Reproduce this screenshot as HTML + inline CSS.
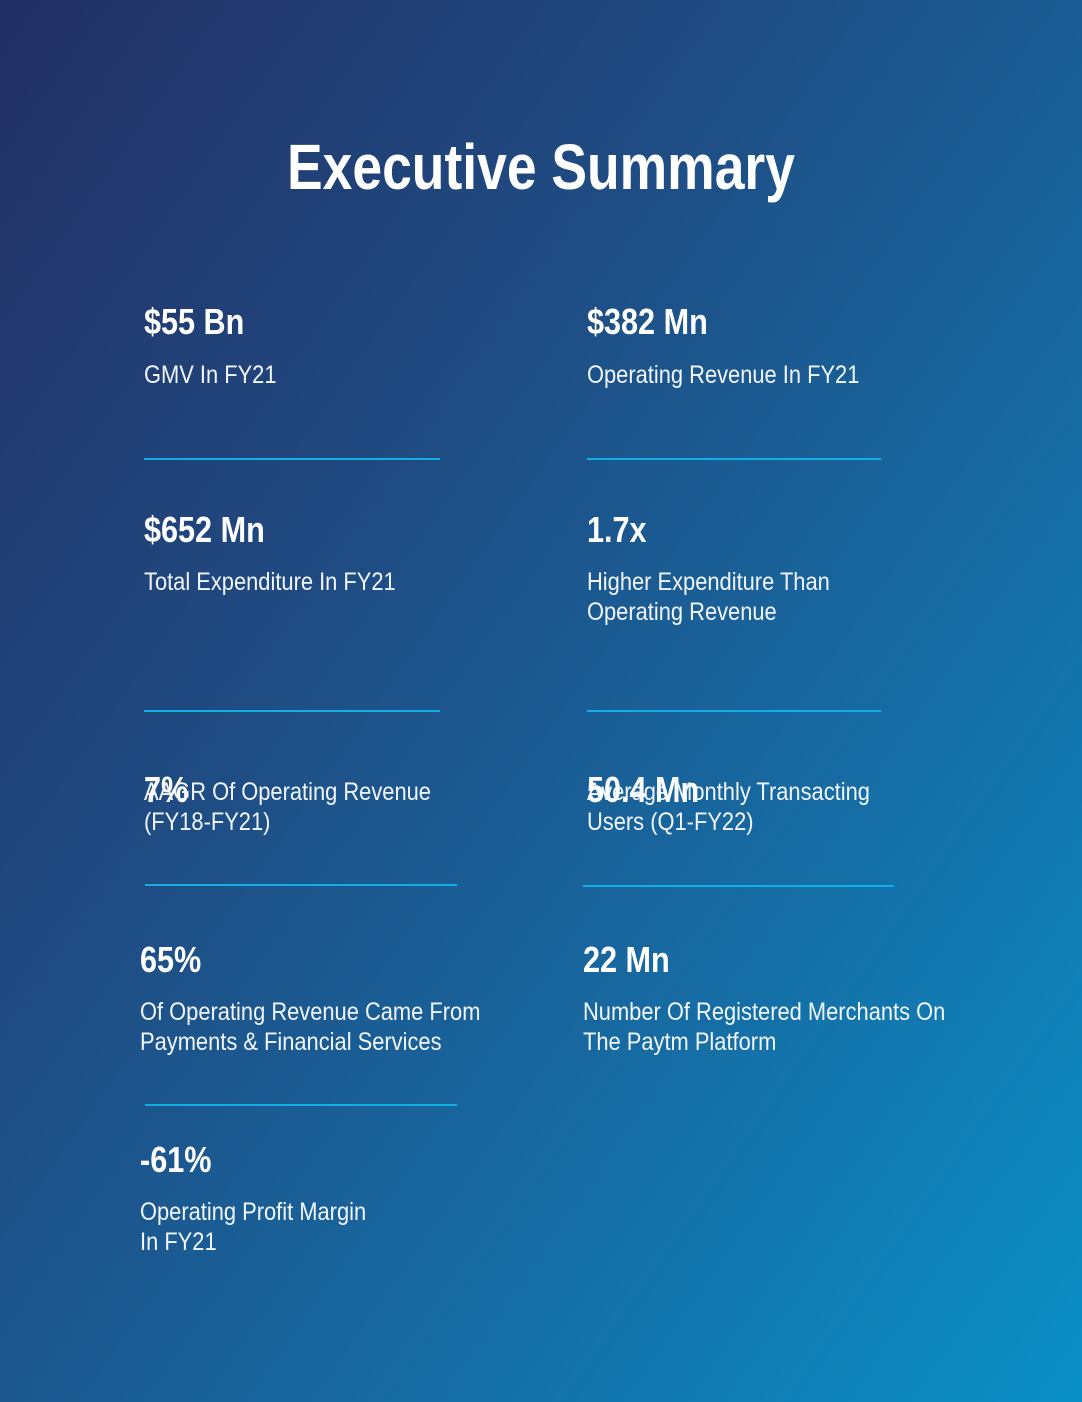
<!DOCTYPE html>
<html><head><meta charset="utf-8"><style>
html,body{margin:0;padding:0}
body{width:1082px;height:1402px;position:relative;overflow:hidden;
background:linear-gradient(125deg,#232f64 0%,#1f4b82 35%,#1769a1 65%,#0a90c6 100%);
font-family:"Liberation Sans",Arial,sans-serif;color:#fff}
.t{position:absolute;white-space:nowrap;line-height:1;transform-origin:left top}
.v{font-size:36px;font-weight:bold;transform:scaleX(0.85)}
.l{font-size:25px;font-weight:normal;color:#f2f6fb;transform:scaleX(0.875)}
.h{position:absolute;height:2px;background:#13aee6}
</style></head><body>
<div class="t" style="font-size:64px;font-weight:bold;left:287px;top:135px;transform:scaleX(0.835)">Executive Summary</div>

<div class="t v" style="left:144px;top:304px">$55 Bn</div>
<div class="t l" style="left:144px;top:363px">GMV In FY21</div>
<div class="t v" style="left:587px;top:304px">$382 Mn</div>
<div class="t l" style="left:587px;top:363px">Operating Revenue In FY21</div>
<div class="h" style="left:144px;top:458px;width:296px"></div>
<div class="h" style="left:587px;top:458px;width:294px"></div>

<div class="t v" style="left:144px;top:512px">$652 Mn</div>
<div class="t l" style="left:144px;top:570px">Total Expenditure In FY21</div>
<div class="t v" style="left:587px;top:512px">1.7x</div>
<div class="t l" style="left:587px;top:570px">Higher Expenditure Than</div>
<div class="t l" style="left:587px;top:600px">Operating Revenue</div>
<div class="h" style="left:144px;top:710px;width:296px"></div>
<div class="h" style="left:587px;top:710px;width:294px"></div>

<div class="t v" style="left:144px;top:772px">7%</div>
<div class="t l" style="left:144px;top:780px">AAGR Of Operating Revenue</div>
<div class="t l" style="left:144px;top:810px">(FY18-FY21)</div>
<div class="t v" style="left:587px;top:772px">50.4 Mn</div>
<div class="t l" style="left:587px;top:780px">Average Monthly Transacting</div>
<div class="t l" style="left:587px;top:810px">Users (Q1-FY22)</div>
<div class="h" style="left:145px;top:884px;width:312px"></div>
<div class="h" style="left:583px;top:885px;width:311px"></div>

<div class="t v" style="left:140px;top:942px">65%</div>
<div class="t l" style="left:140px;top:1000px">Of Operating Revenue Came From</div>
<div class="t l" style="left:140px;top:1030px">Payments &amp; Financial Services</div>
<div class="t v" style="left:583px;top:942px">22 Mn</div>
<div class="t l" style="left:583px;top:1000px">Number Of Registered Merchants On</div>
<div class="t l" style="left:583px;top:1030px">The Paytm Platform</div>
<div class="h" style="left:145px;top:1104px;width:312px"></div>

<div class="t v" style="left:140px;top:1142px">-61%</div>
<div class="t l" style="left:140px;top:1200px">Operating Profit Margin</div>
<div class="t l" style="left:140px;top:1230px">In FY21</div>
</body></html>
